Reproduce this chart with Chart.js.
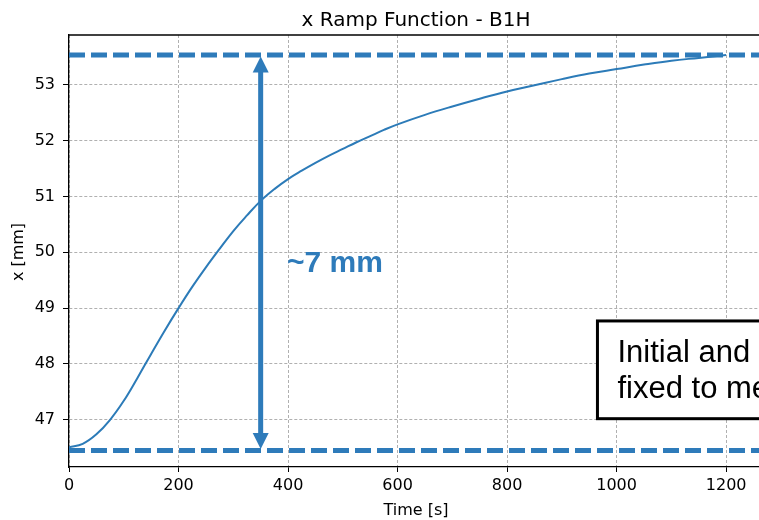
<!DOCTYPE html>
<html>
<head>
<meta charset="utf-8">
<title>x Ramp Function - B1H</title>
<script src="https://cdn.jsdelivr.net/npm/chart.js@4.4.0/dist/chart.umd.min.js"></script>
<style>
  html, body { margin: 0; padding: 0; background: #fff; overflow: hidden; }
  canvas { display: block; }
</style>
</head>
<body>
<canvas id="rampChart" width="759" height="520"></canvas>
<script>
// ramp curve
const timeS = [0, 25, 50, 75, 100, 125, 150, 175, 200, 225, 250, 275, 300, 325, 350, 375, 400, 425,
               450, 475, 500, 525, 550, 575, 600, 650, 700, 750, 800, 850, 900, 950, 1000, 1050, 1100, 1150, 1200];
const xMm = [46.51, 46.57, 46.74, 47.00, 47.34, 47.75, 48.18, 48.60, 49.00, 49.38, 49.73, 50.06, 50.38, 50.66, 50.92, 51.13, 51.31, 51.46,
             51.60, 51.73, 51.85, 51.97, 52.08, 52.19, 52.29, 52.46, 52.61, 52.75, 52.88, 52.99, 53.10, 53.20, 53.28, 53.36, 53.43, 53.48, 53.53];

const xTicks = [0, 200, 400, 600, 800, 1000, 1200];
const yTicks = [47, 48, 49, 50, 51, 52, 53];

// dashed levels and the arrow between them
const initialLevel = 46.45;
const finalLevel = 53.53;
const arrowTime = 350;

const curveColor = '#2c7bb8';
const markColor = '#2e7bba';

const overlay = {
    id: 'overlay',
    afterDraw(chart) {
        const { ctx, chartArea, scales } = chart;
        const x = scales.x, y = scales.y;
        ctx.save();

        // top spine
        ctx.strokeStyle = '#000';
        ctx.lineWidth = 1.3;
        ctx.beginPath();
        ctx.moveTo(chartArea.left, chartArea.top);
        ctx.lineTo(chartArea.right, chartArea.top);
        ctx.stroke();

        // title and axis labels
        ctx.fillStyle = '#000';
        ctx.font = '20px "DejaVu Sans"';
        ctx.textAlign = 'center';
        ctx.textBaseline = 'alphabetic';
        ctx.fillText('x Ramp Function - B1H', 416, 26);

        ctx.font = '16px "DejaVu Sans"';
        ctx.fillText('Time [s]', 416, 515);
        ctx.save();
        ctx.translate(23, 252);
        ctx.rotate(-Math.PI / 2);
        ctx.fillText('x [mm]', 0, 0);
        ctx.restore();

        // double arrow
        const ax = x.getPixelForValue(arrowTime);
        const yTop = y.getPixelForValue(finalLevel) + 1.5;
        const yBot = y.getPixelForValue(initialLevel) - 1.5;
        const head = 16, half = 8;
        ctx.fillStyle = markColor;
        ctx.strokeStyle = markColor;
        ctx.lineWidth = 5;
        ctx.beginPath();
        ctx.moveTo(ax, yTop + head - 1);
        ctx.lineTo(ax, yBot - head + 1);
        ctx.stroke();
        ctx.beginPath();
        ctx.moveTo(ax, yTop);
        ctx.lineTo(ax - half, yTop + head);
        ctx.lineTo(ax + half, yTop + head);
        ctx.closePath();
        ctx.fill();
        ctx.beginPath();
        ctx.moveTo(ax, yBot);
        ctx.lineTo(ax - half, yBot - head);
        ctx.lineTo(ax + half, yBot - head);
        ctx.closePath();
        ctx.fill();

        // ~7 mm label
        ctx.font = 'bold 30px "Liberation Sans"';
        ctx.textAlign = 'left';
        ctx.fillText('~7 mm', x.getPixelForValue(398), y.getPixelForValue(49.64));

        // note box, cut at the right edge
        const bx = x.getPixelForValue(965);
        const bt = y.getPixelForValue(48.77);
        const bb = y.getPixelForValue(47.02);
        ctx.fillStyle = '#fff';
        ctx.fillRect(bx, bt, 300, bb - bt);
        ctx.strokeStyle = '#000';
        ctx.lineWidth = 3;
        ctx.strokeRect(bx, bt, 300, bb - bt);
        ctx.fillStyle = '#000';
        ctx.font = '31px "Liberation Sans"';
        ctx.fillText('Initial and', bx + 20, bt + 41);
        ctx.fillText('fixed to me', bx + 20, bt + 77);

        ctx.restore();
    }
};

new Chart(document.getElementById('rampChart'), {
    type: 'line',
    data: {
        datasets: [
            {
                label: 'x ramp',
                data: timeS.map((t, i) => ({ x: t, y: xMm[i] })),
                borderColor: curveColor,
                borderWidth: 2,
                pointRadius: 0,
                tension: 0.4,
                fill: false
            },
            {
                label: 'final',
                data: [{ x: 0, y: finalLevel }, { x: 1260, y: finalLevel }],
                borderColor: markColor,
                borderWidth: 5,
                borderDash: [16, 6],
                borderCapStyle: 'butt',
                pointRadius: 0
            },
            {
                label: 'initial',
                data: [{ x: 0, y: initialLevel }, { x: 1260, y: initialLevel }],
                borderColor: markColor,
                borderWidth: 5,
                borderDash: [16, 6],
                borderCapStyle: 'butt',
                pointRadius: 0
            }
        ]
    },
    options: {
        responsive: false,
        animation: false,
        layout: { padding: { top: 35, left: 0, right: 0, bottom: 0 } },
        plugins: {
            legend: { display: false },
            tooltip: { enabled: false }
        },
        scales: {
            x: {
                type: 'linear',
                min: 0,
                max: 1260,
                afterBuildTicks: s => { s.ticks = xTicks.map(v => ({ value: v })); },
                afterFit: s => { s.height = 53; },
                ticks: {
                    font: { family: 'DejaVu Sans', size: 16 },
                    color: '#000',
                    padding: 4,
                    maxRotation: 0,
                    callback: v => String(v)
                },
                grid: {
                    color: '#b0b0b0',
                    lineWidth: 1,
                    tickLength: 5,
                    tickColor: '#000',
                    tickWidth: 1,
                    tickBorderDash: []
                },
                border: { color: '#000', width: 1.3, dash: [3, 2] }
            },
            y: {
                type: 'linear',
                min: 46.155,
                max: 53.89,
                afterBuildTicks: s => { s.ticks = yTicks.map(v => ({ value: v })); },
                afterFit: s => { s.width = 69; },
                ticks: {
                    font: { family: 'DejaVu Sans', size: 16 },
                    color: '#000',
                    padding: 8,
                    callback: v => String(v)
                },
                grid: {
                    color: '#b0b0b0',
                    lineWidth: 1,
                    tickLength: 6,
                    tickColor: '#000',
                    tickWidth: 1,
                    tickBorderDash: []
                },
                border: { color: '#000', width: 1.3, dash: [3, 2] }
            }
        }
    },
    plugins: [overlay]
});
</script>
</body>
</html>
